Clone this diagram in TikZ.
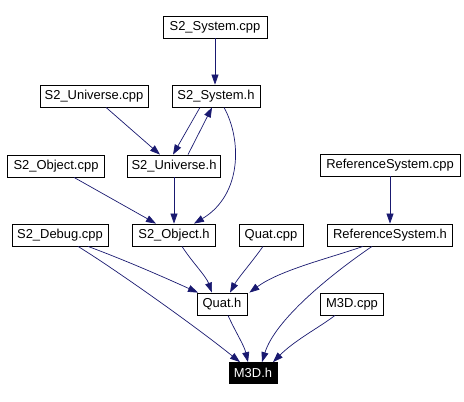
\documentclass[tikz,border=0pt]{standalone}
\usepackage{fontspec}
\setmainfont{Liberation Sans}
\usetikzlibrary{arrows.meta,calc}
\definecolor{edgecol}{HTML}{191970}
\tikzset{
  box/.style={draw=black, line width=0.8bp, fill=white, minimum height=22bp, inner sep=0pt,
              font=\fontsize{13}{15}\selectfont, anchor=center},
  hilite/.style={box, fill=black, text=white, minimum height=21bp},
  dep/.style={draw=edgecol, line width=0.7bp, -{Triangle[length=10bp,width=7bp]}, fill=none}
}
\begin{document}
\begin{tikzpicture}[x=1bp,y=-1bp]
\useasboundingbox (0,0) rectangle (464,401);
\node[box, minimum width=104bp] (SScpp) at (215,27) {S2\_System.cpp};
\node[box, minimum width=88bp]  (Sh)    at (216,96) {S2\_System.h};
\node[box, minimum width=108bp] (SUcpp) at (94,96) {S2\_Universe.cpp};
\node[box, minimum width=93bp]  (SUh)   at (174,166) {S2\_Universe.h};
\node[box, minimum width=97bp]  (SOcpp) at (56,166) {S2\_Object.cpp};
\node[box, minimum width=83bp]  (SOh)   at (174,235) {S2\_Object.h};
\node[box, minimum width=96bp]  (SDcpp) at (60,235) {S2\_Debug.cpp};
\node[box, minimum width=64bp]  (Qcpp)  at (271,235) {Quat.cpp};
\node[box, minimum width=125bp] (RSh)   at (390,235) {ReferenceSystem.h};
\node[box, minimum width=140bp] (RScpp) at (390,165) {ReferenceSystem.cpp};
\node[box, minimum width=50bp]  (Qh)    at (222,304) {Quat.h};
\node[box, minimum width=63bp]  (M3cpp) at (352,304) {M3D.cpp};
\node[hilite, minimum width=48bp] (M3h) at (253,373) {M3D.h};

\draw[dep] (SScpp.south) -- (SScpp.south |- Sh.north);
\draw[dep] ($(SUcpp.south)+(12,0)$) -- ($(SUh.north)+(-14,0)$);
\draw[dep] ($(Sh.south)+(-16,0)$) -- ($(SUh.north)+(-1,0)$);
\draw[dep] ($(SUh.north)+(14,0)$) -- ($(Sh.south)+(-4,0)$);
\draw[dep] ($(Sh.south)+(8,0)$) .. controls (242,140) and (242,195) .. ($(SOh.north)+(20,0)$);
\draw[dep] (SUh.south) -- (SOh.north);
\draw[dep] ($(SOcpp.south)+(18,0)$) -- ($(SOh.north)+(-18,0)$);
\draw[dep] (RScpp.south) -- (RSh.north);
\draw[dep] ($(SDcpp.south)+(28,0)$) .. controls (130,262) and (170,280) .. ($(Qh.north)+(-24,0)$);
\draw[dep] ($(SDcpp.south)+(18,0)$) .. controls (110,266) and (190,322) .. ($(M3h.north)+(-13,0)$);
\draw[dep] ($(SOh.south)+(8,0)$) .. controls (192,262) and (206,276) .. ($(Qh.north)+(-10,0)$);
\draw[dep] ($(Qcpp.south)+(-8,0)$) .. controls (252,262) and (238,278) .. ($(Qh.north)+(8,0)$);
\draw[dep] ($(RSh.south)+(-27,0)$) .. controls (330,258) and (280,270) .. ($(Qh.north east)+(2,0)$);
\draw[dep] ($(RSh.south)+(-18,0)$) .. controls (330,275) and (275,320) .. ($(M3h.north)+(9,0)$);
\draw[dep] ($(Qh.south)+(6,0)$) .. controls (236,333) and (244,345) .. ($(M3h.north)+(-5,0)$);
\draw[dep] ($(M3cpp.south)+(-17,0)$) .. controls (320,327) and (295,340) .. ($(M3h.north)+(20,0)$);
\end{tikzpicture}
\end{document}
